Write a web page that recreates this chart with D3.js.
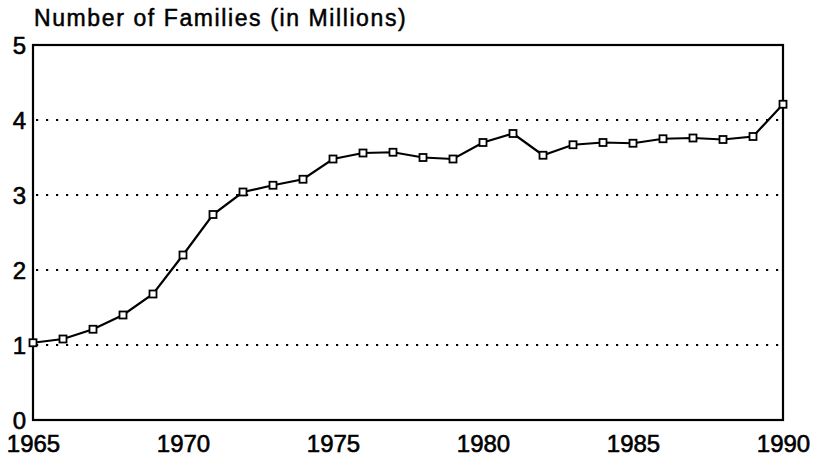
<!DOCTYPE html>
<html>
<head>
<meta charset="utf-8">
<script src="https://cdn.jsdelivr.net/npm/d3@7"></script>
<style>
  html, body { margin: 0; padding: 0; background: #fff; }
  svg { display: block; }
  text { font-family: "Liberation Sans", Arial, Helvetica, sans-serif; fill: #000; }
</style>
</head>
<body>
<svg id="chart" width="814" height="457"></svg>
<script>
const title = "Number of Families (in Millions)";
const years = [1965,1966,1967,1968,1969,1970,1971,1972,1973,1974,1975,1976,1977,1978,1979,1980,1981,1982,1983,1984,1985,1986,1987,1988,1989,1990];
const families = [1.03,1.08,1.21,1.40,1.68,2.20,2.74,3.04,3.13,3.21,3.48,3.56,3.57,3.50,3.48,3.70,3.82,3.53,3.67,3.70,3.69,3.75,3.76,3.74,3.78,4.21];
const xTicks = [1965,1970,1975,1980,1985,1990];
const yTicks = [0,1,2,3,4,5];
const gridValues = [1,2,3,4];

const svg = d3.select("#chart");
const plotLeft = 33, plotRight = 783, plotTop = 45, plotBottom = 420;

const x = d3.scaleLinear().domain([1965, 1990]).range([plotLeft, plotRight]);
const y = d3.scaleLinear().domain([0, 5]).range([plotBottom, plotTop]);

// title
svg.append("text")
  .attr("x", 34).attr("y", 26)
  .style("font-size", "23px")
  .style("letter-spacing", "1.6px")
  .attr("stroke", "#000").attr("stroke-width", 0.5)
  .text(title);

// gridlines
svg.append("g").selectAll("line").data(gridValues).join("line")
  .attr("x1", plotLeft + 3).attr("x2", plotRight - 2)
  .attr("y1", d => y(d)).attr("y2", d => y(d))
  .attr("stroke", "#000")
  .attr("stroke-width", 2.2)
  .attr("stroke-dasharray", "2.2,7.8");

// y axis labels
const yAxis = d3.axisLeft(y).tickValues(yTicks).tickSize(0).tickPadding(7).tickFormat(d3.format("d"));
const gy = svg.append("g").attr("transform", `translate(${plotLeft},0)`).call(yAxis);
gy.select(".domain").remove();
gy.selectAll("text").style("font-size", "24px").attr("fill", "#000")
  .attr("stroke", "#000").attr("stroke-width", 0.6).attr("dy", "0.36em");

// x axis labels
const xAxis = d3.axisBottom(x).tickValues(xTicks).tickSize(0).tickPadding(15).tickFormat(d3.format("d"));
const gx = svg.append("g").attr("transform", `translate(0,${plotBottom})`).call(xAxis);
gx.select(".domain").remove();
gx.selectAll("text").style("font-size", "24px").attr("fill", "#000")
  .attr("stroke", "#000").attr("stroke-width", 0.6);

// frame
svg.append("rect")
  .attr("x", plotLeft).attr("y", plotTop)
  .attr("width", plotRight - plotLeft).attr("height", plotBottom - plotTop)
  .attr("fill", "none").attr("stroke", "#000").attr("stroke-width", 2.2);

// line
const line = d3.line().x((d, i) => x(years[i])).y(d => y(d));
svg.append("path")
  .datum(families)
  .attr("d", line)
  .attr("fill", "none")
  .attr("stroke", "#000")
  .attr("stroke-width", 2.2);

// markers
svg.append("g").selectAll("rect").data(families).join("rect")
  .attr("x", (d, i) => x(years[i]) - 3.5)
  .attr("y", d => y(d) - 3.5)
  .attr("width", 7).attr("height", 7)
  .attr("fill", "#fff")
  .attr("stroke", "#000")
  .attr("stroke-width", 1.8);
</script>
</body>
</html>
